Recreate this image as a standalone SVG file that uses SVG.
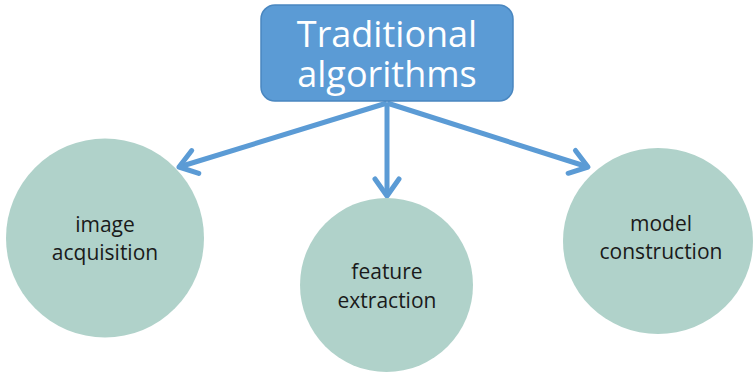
<svg xmlns="http://www.w3.org/2000/svg" width="753" height="373" viewBox="0 0 753 373">
<style>
.node ellipse{fill:#b0d2ca}
.lbl{font-family:"Open Sans","Liberation Sans",sans-serif;font-size:21px;fill:#1a1a1a;text-anchor:middle}
.title{font-family:"Open Sans","Liberation Sans",sans-serif;font-size:36px;fill:#ffffff;text-anchor:middle}
.conn line{stroke:#5b9bd5;stroke-width:5;marker-end:url(#chev)}
</style>
<defs>
<marker id="chev" markerUnits="userSpaceOnUse" viewBox="-25 -15 30 30" markerWidth="30" markerHeight="30" refX="0" refY="0" orient="auto" overflow="visible">
<path d="M-17,-12 L0,0 L-17,12" fill="none" stroke="#5b9bd5" stroke-width="5" stroke-linecap="round" stroke-linejoin="round"/>
</marker>
</defs>
<rect width="753" height="373" fill="#ffffff"/>
<g id="connectors" class="conn">
<line x1="387" y1="103" x2="179" y2="167"/>
<line x1="387" y1="103" x2="387" y2="196"/>
<line x1="387" y1="103" x2="588" y2="167"/>
</g>
<g id="traditional" class="node">
<rect x="261" y="5" width="252" height="96" rx="14" fill="#5b9bd5" stroke="#4a87c0" stroke-width="1.5"/>
<text class="title" x="387" y="47">Traditional</text>
<text class="title" x="387" y="87">algorithms</text>
</g>
<g id="image-acquisition" class="node">
<ellipse cx="105" cy="238" rx="99" ry="99.5"/>
<text class="lbl" x="105" y="232">image</text>
<text class="lbl" x="105" y="260">acquisition</text>
</g>
<g id="feature-extraction" class="node">
<ellipse cx="386.5" cy="285" rx="86.5" ry="87"/>
<text class="lbl" x="387" y="279">feature</text>
<text class="lbl" x="387" y="308">extraction</text>
</g>
<g id="model-construction" class="node">
<ellipse cx="658" cy="241" rx="95" ry="93"/>
<text class="lbl" x="661" y="231">model</text>
<text class="lbl" x="661" y="259">construction</text>
</g>
</svg>
